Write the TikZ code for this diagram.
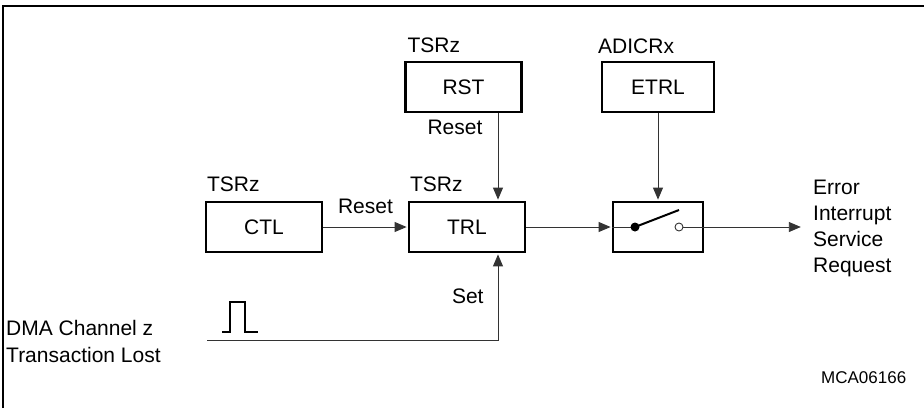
\documentclass[tikz,border=0pt]{standalone}
\usepackage{fontspec}
\setmainfont{Liberation Sans}
\usetikzlibrary{positioning, arrows.meta, calc}

\begin{document}
\begin{tikzpicture}[
      x=1pt, y=-1pt,
      font=\fontsize{21}{26}\selectfont,
      reg/.style={
        draw, line width=2.4pt, inner sep=0pt,
        minimum width=116pt, minimum height=50pt
      },
      swbox/.style={reg, minimum width=90pt},
      lbl/.style={inner sep=0pt, anchor=base west},
      wire/.style={draw=black!80, line width=0.9pt},
      arr/.style={wire, -{Triangle[length=12pt, width=10pt]}, shorten >=1.2pt},
      pulse/.style={line width=2pt, line join=miter},
      frame/.style={line width=1.6pt}
    ]
      \useasboundingbox (0,0) rectangle (924,408);
      \draw[frame] (3,408) -- (3,6) -- (924,6);

      % registers
      \node[reg]                  (rst)  at (463.5,87) {RST};
      \node[reg, minimum width=112pt] (etrl) at (658,87) {ETRL};
      \node[reg]                  (ctl)  at (264,227) {CTL};
      \node[reg]                  (trl)  at (467,227) {TRL};
      \node[swbox]                (sw)   at (658,227) {};

      \node[lbl, anchor=south west, above right=8pt and 3pt of rst.north west]  (rstreg) {TSRz};
      \node[lbl, anchor=south west, above right=9pt and 2pt of ctl.north west]  (ctlreg) {TSRz};
      \node[lbl, anchor=south west, above right=9pt and 2pt of trl.north west]  (trlreg) {TSRz};
      \node[lbl] (etrlreg) at (598,53) {ADICRx};
      \node[lbl, anchor=north west, below right=6.5pt and 23pt of rst.south west] (rstlbl) {Reset};

      \coordinate (rstx)    at (498,0);
      \coordinate (dma)     at (207,340);
      \coordinate (pivot)   at (635,227);
      \coordinate (contact) at (679,227);
      \coordinate (srq)     at (802,227);

      % connections
      \draw[arr] (rst.south -| rstx) -- (trl.north -| rstx);
      \draw[arr] (etrl.south) -- (sw.north);
      \draw[arr] (ctl) -- node[midway, above=13pt, inner sep=0pt] {Reset} (trl);
      \draw[arr] (trl) -- (sw);
      \draw[arr] (dma) -| node[pos=0.75, left=14pt, inner sep=0pt] {Set} (trl.south -| rstx);

      % switch
      \draw[wire] (sw.west) -- (pivot);
      \draw[arr] (contact) -- (srq);
      \draw[line width=2pt] (pivot) -- ++(44,-17);
      \fill (pivot) circle (4.5pt);
      \draw[wire, fill=white] (contact) circle (4pt);

      % pulse
      \draw[pulse] (222,332) -- (230,332) -- (230,302) -- (245,302) -- (245,332) -- (258,332);

      \node[inner sep=0pt, anchor=north west, align=left, font=\fontsize{21}{27}\selectfont] (dmatxt) at (6,319.7)
        {DMA Channel z\\Transaction Lost};
      \node[inner sep=0pt, anchor=north west, align=left] (srqtxt) at (813,179.7)
        {Error\\Interrupt\\Service\\Request};
      \node[lbl, font=\fontsize{17}{20}\selectfont] (figid) at (821,383) {MCA06166};
    \end{tikzpicture}
\end{document}
